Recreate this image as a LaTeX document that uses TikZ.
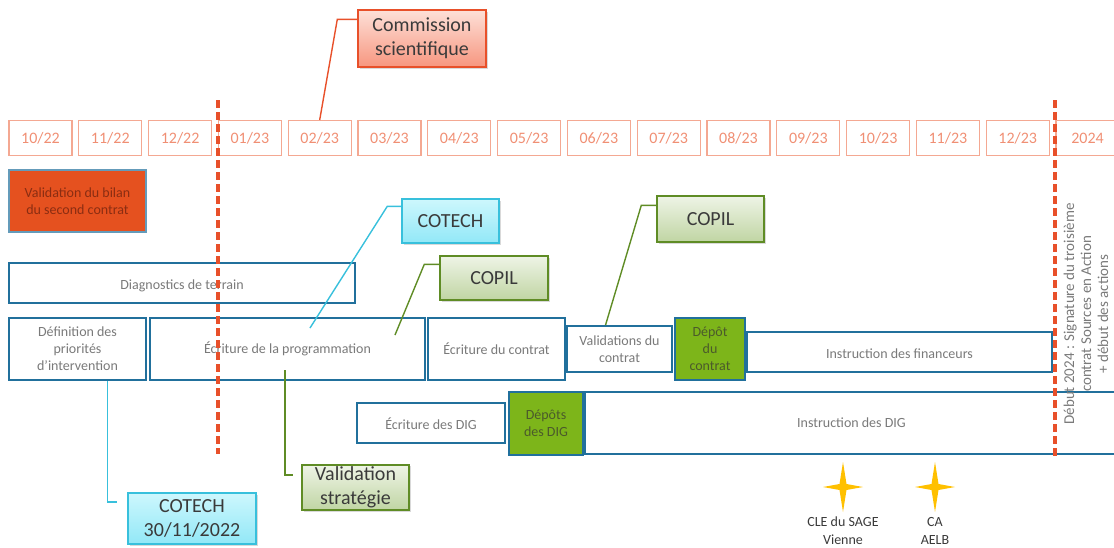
\documentclass[tikz,border=0pt]{standalone}
\usepackage{fontspec}
\setmainfont{Carlito}
\usepackage{tikz}
\usetikzlibrary{shadows}

\definecolor{monthline}{HTML}{F4A892}
\definecolor{monthtext}{HTML}{F08F74}
\definecolor{limitred}{HTML}{E8502A}
\definecolor{taskline}{HTML}{21709C}
\definecolor{tasktext}{HTML}{7A7A7A}
\definecolor{depotfill}{HTML}{7DB51A}
\definecolor{depottext}{HTML}{4B5A2B}
\definecolor{bilanfill}{HTML}{E5511F}
\definecolor{bilantext}{HTML}{8A2D12}
\definecolor{sciline}{HTML}{E8502A}
\definecolor{scitop}{HTML}{FDE0D8}
\definecolor{scibot}{HTML}{F7967F}
\definecolor{cotechline}{HTML}{38C0DC}
\definecolor{cotechtop}{HTML}{CDF7FD}
\definecolor{cotechbot}{HTML}{92E8F7}
\definecolor{copilline}{HTML}{5F8C25}
\definecolor{copiltop}{HTML}{EEF4E6}
\definecolor{copilbot}{HTML}{C0D5A3}
\definecolor{stargold}{HTML}{FFC000}
\definecolor{calltext}{HTML}{3A3A3A}

\newcommand{\monthsize}{\fontsize{16}{18}\selectfont}
\newcommand{\tasksize}{\fontsize{14}{17}\selectfont}
\newcommand{\callsize}{\fontsize{20}{24}\selectfont}

\begin{document}
\begin{tikzpicture}[x=1pt,y=-1pt,
	monthbox/.style={draw=monthline,line width=1.2pt,minimum width=63pt,minimum height=35pt,inner sep=1pt,text=monthtext,font=\monthsize},
	taskbox/.style={draw=taskline,line width=1.7pt,fill=white,inner sep=2pt,align=center,text=tasktext,font=\tasksize},
	depotbox/.style={taskbox,fill=depotfill,text=depottext},
	bilanbox/.style={taskbox,draw=taskline!70,fill=bilanfill,text=bilantext},
	callbox/.style={line width=1.4pt,inner sep=2pt,align=center,text=calltext,font=\callsize,
		drop shadow={shadow xshift=1.5pt,shadow yshift=-1.5pt,opacity=.3}},
	scibox/.style={callbox,draw=sciline,top color=scitop,bottom color=scibot},
	cotechbox/.style={callbox,draw=cotechline,top color=cotechtop,bottom color=cotechbot},
	copilbox/.style={callbox,draw=copilline,top color=copiltop,bottom color=copilbot},
	scilink/.style={draw=sciline,line width=1.4pt},
	cotechlink/.style={draw=cotechline,line width=1.4pt},
	copillink/.style={draw=copilline,line width=1.4pt},
	limit/.style={draw=limitred,line width=3.8pt,dash pattern=on 8pt off 4pt}]

	\useasboundingbox (0,0) rectangle (1114,547);

	% months
	\foreach \m [count=\i from 0] in {{10/22},{11/22},{12/22},{01/23},{02/23},{03/23},{04/23},{05/23},{06/23},{07/23},{08/23},{09/23},{10/23},{11/23},{12/23},{2024}}
		\node[monthbox] (m\i) at (40.5+69.8*\i,138) {\m};

	% tasks
	\node[bilanbox,minimum width=137pt,minimum height=62pt] (bilan) at (77.5,201) {Validation du bilan\\du second contrat};
	\node[taskbox,minimum width=346pt,minimum height=40pt] (diag) at (182,283) {\\[-2pt]Diagnostics de terrain};
	\node[taskbox,minimum width=137pt,minimum height=62pt] (defprio) at (77.5,349) {Définition des\\priorités\\d’intervention};
	\node[taskbox,minimum width=275pt,minimum height=62pt] (prog) at (287.5,349) {Écriture de la programmation};
	\node[taskbox,minimum width=137pt,minimum height=62pt] (ecrcontrat) at (496.5,349) {Écriture du contrat};
	\node[taskbox,minimum width=105pt,minimum height=46pt] (valid) at (619.5,349) {Validations du\\contrat};
	\node[depotbox,minimum width=70pt,minimum height=62pt] (depotc) at (710,349) {Dépôt\\du\\contrat};
	\node[taskbox,minimum width=305pt,minimum height=40pt] (instrf) at (899.5,352) {\\[-4pt]Instruction des financeurs};
	\node[taskbox,minimum width=148pt,minimum height=40pt] (ecrdig) at (431,423) {\\[-4pt]Écriture des DIG};
	\node[depotbox,minimum width=74pt,minimum height=63pt] (depotdig) at (546,423.5) {Dépôts\\des DIG};
	\node[taskbox,minimum width=533pt,minimum height=62pt] (instrdig) at (851.5,423) {Instruction des DIG};

	% limits
	\coordinate (l1top) at (218,100);
	\coordinate (l1bot) at (218,454);
	\coordinate (l2top) at (1055,100);
	\coordinate (l2bot) at (1055,456);
	\draw[limit] (l1top) -- (l1bot);
	\draw[limit] (l2top) -- (l2bot);

	\node[rotate=90,align=center,text=tasktext,font=\fontsize{15}{17}\selectfont] (debut) at (1086,314)
		{Début 2024 : Signature du troisième\\contrat Sources en Action\\+ début des actions};

	% meetings
	\node[scibox,minimum width=128pt,minimum height=57pt] (comsci) at (422,38.5) {Commission\\scientifique};
	\node[cotechbox,minimum width=97pt,minimum height=44pt] (cotechA) at (450.5,221) {COTECH};
	\node[copilbox,minimum width=108pt,minimum height=44pt] (copilA) at (494,278) {COPIL};
	\node[copilbox,minimum width=107pt,minimum height=46pt] (copilB) at (710.5,219) {COPIL};
	\node[cotechbox,minimum width=128pt,minimum height=51pt] (cotechB) at (192,518.5) {COTECH\\30/11/2022};
	\node[copilbox,minimum width=107pt,minimum height=45pt] (stratA) at (355.5,487.5) {Validation\\stratégie};

	\coordinate (cotechAend) at (310,328);
	\coordinate (copilAend) at (395,335);
	\coordinate (cotechBend) at (117,502);
	\coordinate (stratstart) at (285,370);
	\coordinate (stratend) at (293,475);

	\draw[scilink] ([yshift=-10pt]comsci.north west) -- ++(-20,0) -- (m4.north);
	\draw[cotechlink] ([yshift=-8pt]cotechA.north west) -- ++(-14,0) -- (cotechAend);
	\draw[copillink] ([yshift=-9pt]copilA.north west) -- ++(-15,0) -- (copilAend);
	\draw[copillink] ([yshift=-10pt]copilB.north west) -- ++(-15,0) -- ([xshift=-14pt]valid.north);
	\draw[cotechlink] ([xshift=30pt]defprio.south) |- (cotechBend);
	\draw[copillink] (stratstart) |- (stratend);

	% stars
	\foreach \sx/\lbl [count=\k] in {843/{CLE du SAGE\\Vienne},935/{CA\\AELB}}{
		\fill[stargold] (\sx,462) -- (\sx+3.5,484) -- (\sx+20,487) -- (\sx+3.5,490)
			-- (\sx,512) -- (\sx-3.5,490) -- (\sx-20,487) -- (\sx-3.5,484) -- cycle;
		\node[align=center,text=calltext,font=\fontsize{14}{18}\selectfont] (star\k) at (\sx,531) {\lbl};
	}
\end{tikzpicture}
\end{document}
